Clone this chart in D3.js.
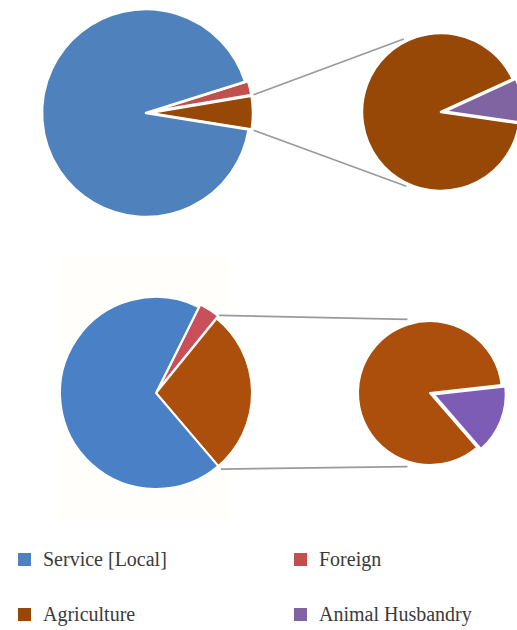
<!DOCTYPE html>
<html>
<head>
<meta charset="utf-8">
<script src="https://cdn.jsdelivr.net/npm/d3@7"></script>
<style>
  body { margin: 0; background: #fff; }
  svg { display: block; }
</style>
</head>
<body>
<svg id="chart"></svg>
<script>
// Main pie slices (clockwise from start angle)
const mainLabels = ['Foreign', 'Agriculture', 'Service [Local]'];
const topMainValues = [2.2, 5.2, 92.6];
const bottomMainValues = [3.5, 27.9, 68.6];

// Secondary pie slices (break-down of the Agriculture slice)
const secondLabels = ['Animal Husbandry', 'Agriculture'];
const topSecondValues = [9.1, 90.9];
const bottomSecondValues = [15.4, 84.6];

// Legend
const legendLabels = ['Service [Local]', 'Foreign', 'Agriculture', 'Animal Husbandry'];

const topColors = {
    'Service [Local]': '#4f81bd',
    'Foreign': '#c0504d',
    'Agriculture': '#974706',
    'Animal Husbandry': '#8064a2'
};
const bottomColors = {
    'Service [Local]': '#4a81c6',
    'Foreign': '#c9505a',
    'Agriculture': '#ad4f0c',
    'Animal Husbandry': '#7d5cb6'
};

const width = 517;
const height = 630;
const deg = Math.PI / 180;

const svg = d3.select('#chart')
    .attr('width', width)
    .attr('height', height);

// very faint scanned panel behind the lower chart
svg.append('rect')
    .attr('x', 60).attr('y', 258)
    .attr('width', 168).attr('height', 262)
    .attr('fill', '#fffefa');

const charts = [
    {
        mainValues: topMainValues, secondValues: topSecondValues, colors: topColors,
        main: {cx: 146, cy: 113, r: 104, start: 72.5},
        second: {cx: 441, cy: 112, r: 79, start: 65.4},
        explodeMain: {'Foreign': 3, 'Agriculture': 3},
        explodeSecond: {'Animal Husbandry': 3},
        stroke: 2.5,
        link: {startPad: 5, endPad: 3, endTop: -27, endBottom: 205}
    },
    {
        mainValues: bottomMainValues, secondValues: bottomSecondValues, colors: bottomColors,
        main: {cx: 156, cy: 393, r: 96, start: 26.5},
        second: {cx: 430, cy: 393, r: 72, start: 83.7},
        explodeMain: {'Foreign': 3},
        explodeSecond: {'Animal Husbandry': 4},
        stroke: 2,
        link: {startPad: 4, endPad: 5, endTop: -17, endBottom: 197}
    }
];

function polar(cx, cy, r, a) {
    return [cx + r * Math.sin(a), cy - r * Math.cos(a)];
}

function drawPie(labels, values, geo, colors, explode, stroke) {
    const pie = d3.pie()
        .sort(null)
        .value(d => d.value)
        .startAngle(geo.start * deg)
        .endAngle(geo.start * deg + 2 * Math.PI);

    const arc = d3.arc().innerRadius(0).outerRadius(geo.r);
    const arcs = pie(labels.map((l, i) => ({label: l, value: values[i]})));

    svg.append('g')
        .attr('transform', `translate(${geo.cx},${geo.cy})`)
        .selectAll('path')
        .data(arcs)
        .enter()
        .append('path')
        .attr('d', arc)
        .attr('transform', d => {
            const off = explode[d.data.label] || 0;
            const mid = (d.startAngle + d.endAngle) / 2;
            return `translate(${off * Math.sin(mid)},${-off * Math.cos(mid)})`;
        })
        .attr('fill', d => colors[d.data.label])
        .attr('stroke', '#fff')
        .attr('stroke-width', stroke)
        .attr('stroke-linejoin', 'round');

    return arcs;
}

charts.forEach(c => {
    const mainArcs = drawPie(mainLabels, c.mainValues, c.main, c.colors, c.explodeMain, c.stroke);
    drawPie(secondLabels, c.secondValues, c.second, c.colors, c.explodeSecond, c.stroke);

    // connector lines from the Agriculture slice to the secondary pie
    const other = mainArcs.find(d => d.data.label === 'Agriculture');
    const links = [
        [polar(c.main.cx, c.main.cy, c.main.r + c.link.startPad, other.startAngle),
         polar(c.second.cx, c.second.cy, c.second.r + c.link.endPad, c.link.endTop * deg)],
        [polar(c.main.cx, c.main.cy, c.main.r + c.link.startPad, other.endAngle),
         polar(c.second.cx, c.second.cy, c.second.r + c.link.endPad, c.link.endBottom * deg)]
    ];
    svg.append('g')
        .selectAll('line')
        .data(links)
        .enter()
        .append('line')
        .attr('x1', d => d[0][0]).attr('y1', d => d[0][1])
        .attr('x2', d => d[1][0]).attr('y2', d => d[1][1])
        .attr('stroke', '#9a9a9a')
        .attr('stroke-width', 1.6);
});

// Legend: two columns, two rows
const legend = svg.append('g')
    .selectAll('g')
    .data(legendLabels)
    .enter()
    .append('g')
    .attr('transform', (d, i) => `translate(${i % 2 === 0 ? 18 : 294},${i < 2 ? 553 : 608})`);

legend.append('rect')
    .attr('width', 13)
    .attr('height', 13)
    .attr('fill', d => topColors[d]);

legend.append('text')
    .attr('x', 25)
    .attr('y', 13)
    .style('font-family', '"Liberation Serif", serif')
    .style('font-size', '20px')
    .style('fill', '#3a3a3a')
    .text(d => d);
</script>
</body>
</html>
